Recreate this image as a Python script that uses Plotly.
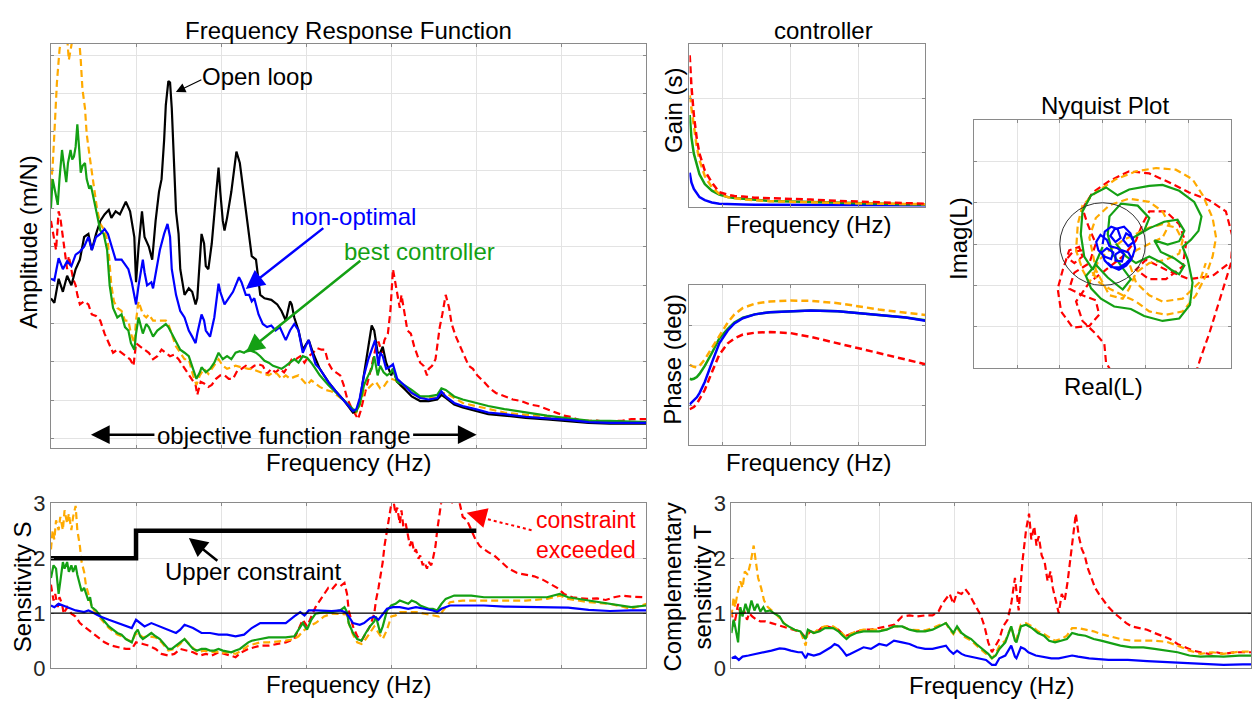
import plotly.graph_objects as go

W, H = 1252, 714

# ---------------- Frequency response (Hz, dB) ----------------
frf_open = [(0,-123.4),(4,-124.6),(9,-118.3),(14,-121.7),(19,-117.5),(24,-120.0),(29,-115.8),(34,-113.3),(39,-107.4),(44,-106.6),(48,-110.8),(53,-106.6),(58,-103.2),(63,-101.5),(68,-100.3),(71,-102.4),(76,-100.7),(81,-101.5),(88,-98.2),(93,-100.7),(98,-107.4),(100,-119.2),(103,-109.9),(107,-100.7),(110,-107.4),(115,-109.9),(119,-113.3),(123,-103.2),(127,-95.6),(130,-92.3),(133,-82.2),(135,-73.0),(138,-66.7),(140,-67.1),(142,-73.8),(145,-90.6),(147,-100.7),(150,-106.6),(152,-115.8),(157,-122.5),(162,-120.8),(166,-121.7),(170,-125.0),(172,-123.4),(177,-106.6),(180,-109.1),(182,-115.0),(185,-115.8),(189,-109.1),(194,-96.5),(197,-89.3),(199,-95.6),(202,-103.2),(204,-105.7),(207,-102.4),(212,-95.6),(216,-88.1),(218,-85.1),(222,-88.1),(227,-96.5),(232,-105.7),(236,-112.4),(241,-113.3),(244,-119.2),(246,-122.5),(251,-123.4),(259,-123.8),(266,-125.0),(271,-126.7),(276,-129.2),(281,-124.2),(283,-125.0),(286,-128.4),(291,-131.8),(296,-136.8),(303,-134.3),(308,-137.6),(316,-141.8),(326,-145.2),(335,-147.7),(345,-150.2),(355,-153.2),(359,-152.8),(363,-150.2),(368,-143.5),(373,-136.0),(377,-130.5),(380,-131.8),(384,-137.6),(387,-137.6),(390,-136.0),(394,-140.2),(400,-143.5),(402,-141.8),(407,-145.2),(415,-146.9),(424,-149.0),(434,-150.2),(444,-150.2),(454,-149.8),(459,-148.6),(464,-149.4),(474,-151.1),(484,-151.9),(499,-152.8),(514,-153.6),(533,-154.0),(558,-154.6),(583,-155.0),(608,-155.4),(632,-155.9),(657,-156.1),(700,-156.1)]

frf_nonopt = [(0,-118.3),(4,-118.7),(9,-112.9),(14,-115.8),(19,-113.7),(24,-115.0),(29,-112.0),(34,-111.2),(39,-109.9),(44,-107.4),(48,-110.8),(53,-107.4),(58,-106.6),(63,-105.3),(67,-106.6),(71,-109.9),(76,-113.3),(83,-113.3),(91,-115.8),(95,-119.2),(100,-125.0),(103,-120.0),(108,-113.3),(110,-116.6),(113,-120.0),(118,-119.2),(120,-120.8),(124,-115.8),(128,-110.8),(133,-106.6),(137,-104.0),(140,-107.4),(142,-115.8),(147,-122.5),(152,-126.7),(157,-128.4),(162,-131.8),(166,-133.4),(170,-135.1),(172,-132.6),(177,-127.6),(180,-129.2),(182,-131.8),(187,-133.4),(192,-128.4),(197,-119.6),(199,-121.7),(204,-125.0),(209,-123.4),(214,-121.7),(221,-117.9),(224,-119.2),(229,-122.5),(233,-122.5),(236,-124.2),(239,-123.4),(244,-127.6),(249,-130.1),(254,-130.9),(259,-130.5),(264,-131.8),(269,-130.9),(274,-133.4),(276,-134.3),(281,-131.8),(286,-130.1),(291,-131.8),(296,-137.6),(301,-135.1),(303,-134.3),(306,-136.8),(311,-140.6),(316,-141.8),(326,-145.2),(335,-147.7),(345,-150.2),(355,-152.8),(359,-152.3),(363,-149.4),(368,-143.5),(373,-139.3),(377,-136.8),(381,-134.3),(385,-141.0),(387,-137.6),(390,-138.5),(394,-141.8),(400,-141.0),(402,-140.6),(407,-144.4),(415,-146.0),(424,-148.1),(434,-149.4),(444,-149.8),(454,-149.4),(459,-147.7),(464,-149.0),(474,-150.7),(484,-151.5),(499,-152.3),(514,-153.2),(533,-153.6),(558,-154.3),(583,-154.7),(608,-155.1),(632,-155.7),(657,-155.9),(700,-155.9)]

frf_best = [(0,-99.8),(2,-92.3),(5,-95.6),(8,-99.0),(10,-92.3),(13,-84.7),(15,-88.1),(18,-93.1),(20,-88.1),(23,-84.7),(25,-87.2),(27,-86.4),(29,-83.9),(31,-78.0),(33,-83.9),(35,-90.6),(37,-88.9),(40,-88.1),(42,-92.3),(45,-94.8),(47,-94.0),(51,-98.2),(54,-101.5),(58,-105.7),(62,-106.6),(66,-110.8),(69,-120.0),(73,-125.9),(78,-128.4),(83,-127.6),(87,-130.9),(91,-131.8),(94,-135.1),(98,-136.8),(100,-132.6),(103,-128.4),(108,-132.6),(112,-130.1),(115,-130.9),(120,-133.4),(125,-131.8),(130,-130.9),(135,-130.1),(138,-130.9),(142,-132.6),(147,-135.1),(152,-136.8),(157,-137.6),(162,-138.5),(167,-141.8),(171,-144.4),(175,-142.7),(177,-141.4),(182,-142.7),(187,-141.8),(192,-140.2),(197,-137.6),(202,-139.3),(207,-138.5),(212,-139.3),(217,-137.6),(222,-137.2),(227,-137.6),(232,-136.8),(236,-137.2),(241,-137.6),(246,-138.5),(251,-139.7),(256,-140.2),(261,-141.0),(266,-141.4),(271,-141.8),(276,-141.0),(281,-140.2),(286,-139.3),(291,-140.2),(296,-138.5),(301,-138.9),(306,-140.2),(311,-141.8),(316,-143.5),(326,-146.0),(335,-148.1),(345,-150.2),(355,-152.3),(359,-152.8),(363,-151.1),(368,-146.0),(373,-143.5),(377,-141.8),(380,-138.5),(384,-143.5),(387,-141.0),(391,-142.7),(395,-143.5),(400,-142.7),(402,-141.8),(407,-145.2),(415,-146.0),(424,-147.3),(434,-149.0),(444,-149.0),(454,-148.6),(459,-146.9),(464,-147.3),(474,-149.0),(484,-149.8),(499,-150.7),(514,-151.5),(533,-152.3),(558,-153.2),(583,-154.0),(608,-154.7),(632,-155.3),(657,-155.4),(700,-155.7)]

frf_orange = [(0,-94.0),(2,-88.9),(4,-80.5),(7,-67.1),(10,-58.7),(13,-53.6),(16,-52.0),(19,-55.3),(21,-61.2),(24,-57.0),(27,-53.6),(30,-51.1),(33,-55.3),(35,-61.2),(37,-68.8),(40,-73.8),(42,-80.5),(45,-85.6),(47,-88.9),(51,-94.8),(54,-99.8),(58,-104.0),(63,-105.7),(67,-109.1),(71,-120.0),(74,-124.2),(78,-125.9),(83,-126.7),(87,-129.2),(91,-129.2),(94,-132.6),(98,-135.1),(100,-129.2),(103,-124.2),(108,-127.6),(112,-128.4),(115,-127.6),(120,-129.2),(128,-129.2),(135,-129.2),(138,-130.1),(142,-132.6),(147,-136.0),(152,-137.6),(157,-139.3),(162,-139.3),(167,-143.5),(171,-146.0),(175,-143.5),(180,-141.8),(185,-143.1),(189,-141.8),(194,-140.2),(197,-139.3),(202,-141.0),(207,-141.8),(212,-141.4),(217,-141.0),(224,-141.4),(232,-141.8),(236,-141.8),(241,-142.3),(246,-142.7),(251,-143.1),(256,-143.5),(261,-142.7),(266,-143.1),(271,-144.4),(276,-143.5),(281,-144.4),(286,-143.9),(291,-143.5),(296,-144.8),(301,-146.0),(306,-144.8),(311,-145.6),(316,-146.5),(323,-147.3),(330,-147.7),(338,-149.0),(345,-150.2),(355,-152.8),(359,-153.2),(363,-151.1),(368,-147.7),(373,-146.9),(377,-146.0),(382,-145.2),(387,-146.9),(391,-146.5),(395,-145.2),(400,-144.4),(405,-144.8),(410,-146.0),(415,-146.9),(424,-148.1),(434,-149.4),(444,-149.4),(454,-149.4),(459,-148.1),(464,-148.1),(474,-149.4),(484,-150.7),(499,-151.5),(514,-152.3),(533,-153.2),(558,-153.8),(583,-154.3),(608,-154.9),(632,-155.4),(657,-155.7),(700,-155.7)]

frf_red = [(0,-103.2),(3,-107.4),(6,-110.8),(9,-100.7),(11,-102.4),(14,-107.4),(16,-110.8),(19,-115.8),(21,-112.4),(24,-115.8),(26,-118.3),(29,-120.0),(31,-122.5),(34,-125.0),(39,-124.2),(44,-125.0),(48,-127.6),(53,-128.0),(58,-129.2),(63,-132.6),(68,-135.1),(73,-137.6),(78,-136.8),(83,-137.6),(88,-138.5),(93,-139.3),(97,-141.0),(100,-135.1),(105,-136.0),(110,-136.8),(115,-137.6),(120,-139.3),(125,-138.5),(130,-136.8),(135,-137.6),(140,-138.5),(145,-138.1),(150,-139.3),(155,-141.0),(160,-142.7),(165,-144.4),(170,-146.0),(172,-148.6),(176,-145.2),(180,-145.6),(185,-146.5),(189,-146.0),(194,-144.4),(199,-143.5),(204,-143.5),(209,-144.4),(214,-144.4),(219,-142.3),(224,-141.8),(229,-141.0),(234,-141.8),(239,-141.0),(244,-140.6),(249,-141.0),(254,-143.1),(259,-141.8),(264,-142.7),(269,-141.8),(274,-142.7),(279,-141.0),(283,-139.3),(288,-139.3),(293,-138.5),(298,-140.2),(303,-138.5),(308,-137.6),(313,-136.4),(318,-136.8),(322,-136.8),(326,-140.2),(330,-141.8),(335,-142.7),(340,-143.5),(344,-146.0),(348,-149.4),(353,-151.9),(358,-154.0),(361,-154.9),(364,-152.8),(368,-149.4),(373,-144.4),(377,-141.0),(382,-136.0),(385,-134.7),(389,-137.6),(392,-134.3),(396,-132.6),(399,-126.7),(402,-115.8),(405,-120.0),(407,-122.5),(410,-125.9),(412,-122.5),(415,-126.7),(417,-129.2),(419,-131.8),(423,-132.6),(427,-136.0),(431,-138.5),(434,-140.2),(438,-141.0),(442,-143.5),(444,-141.8),(448,-141.0),(452,-139.3),(454,-136.0),(457,-130.9),(460,-127.6),(464,-122.5),(468,-125.9),(471,-130.1),(476,-133.4),(481,-136.0),(486,-138.5),(491,-141.0),(496,-141.8),(501,-143.5),(509,-145.2),(516,-146.9),(523,-148.1),(533,-149.0),(543,-149.8),(553,-150.2),(563,-151.1),(573,-151.5),(583,-152.3),(593,-153.2),(603,-154.0),(612,-154.4),(622,-155.3),(632,-155.4),(642,-155.3),(652,-155.7),(662,-155.4),(672,-155.3),(682,-154.9),(700,-154.9)]

# ---------------- Controller (Hz, gain in s, phase in deg) ----------------
ctrl_hz = [0.33, 0.35, 0.38, 0.42, 0.46, 0.55, 0.7, 0.9, 1.2, 1.5, 2, 3, 5, 10, 20, 50, 100, 200, 500, 966]
gain_red = [2.79, 2.22, 1.69, 1.25, 0.98, 0.67, 0.45, 0.27, 0.225, 0.20, 0.19, 0.17, 0.16, 0.15, 0.135, 0.11, 0.095, 0.083, 0.07, 0.06]
gain_orange = [2.05, 1.81, 1.46, 1.10, 0.86, 0.57, 0.36, 0.24, 0.18, 0.16, 0.14, 0.125, 0.105, 0.095, 0.083, 0.07, 0.065, 0.06, 0.055, 0.05]
gain_green = [1.69, 1.28, 0.98, 0.75, 0.60, 0.42, 0.30, 0.225, 0.18, 0.165, 0.15, 0.13, 0.11, 0.10, 0.09, 0.07, 0.065, 0.055, 0.05, 0.045]
gain_blue = [0.63, 0.45, 0.33, 0.24, 0.18, 0.125, 0.083, 0.06, 0.05, 0.045, 0.045, 0.04, 0.04, 0.04, 0.04, 0.035, 0.035, 0.03, 0.03, 0.03]
phase_orange = [0.3, -0.7, -1.8, -2.5, -0.7, 6.5, 19.2, 33.6, 48.0, 57.1, 64.3, 69.1, 71.6, 72.6, 72.3, 69.7, 66.1, 62.6, 58.9, 56.4]
phase_green = [-15.2, -15.9, -15.2, -13.4, -9.8, -0.7, 13.7, 30.0, 40.8, 48.0, 53.5, 57.1, 59.6, 60.7, 61.4, 60.7, 58.9, 56.4, 53.5, 50.6]
phase_blue = [-44.1, -42.3, -39.8, -36.1, -31.4, -18.8, 2.9, 24.6, 39.0, 46.9, 52.8, 57.1, 59.6, 60.7, 61.4, 60.7, 58.9, 56.4, 53.5, 49.9]
phase_red = [-49.5, -48.4, -47.0, -43.4, -38.7, -27.9, -7.9, 11.9, 24.6, 30.0, 34.4, 36.5, 37.2, 36.1, 31.8, 24.6, 19.2, 13.0, 6.5, 1.1]

# ---------------- Nyquist (Re, Im) ----------------
nyq_red = [(-0.47,-0.15),(-0.70,-0.19),(-0.82,-0.34),(-0.66,-0.46),(-0.47,-0.30),(-0.55,-0.07),(-0.78,-0.15),(-0.93,-0.62),(-1.05,-1.08),(-0.97,-1.63),(-0.70,-2.02),(-0.31,-1.98),(-0.08,-1.71),(-0.16,-1.36),(-0.47,-1.24),(-0.78,-1.08),(-0.66,-0.69),(-0.31,-0.46),(-0.16,0.01),(-0.35,0.48),(-0.47,0.86),(-0.23,1.25),(0.16,1.53),(0.62,1.76),(1.09,1.71),(1.56,1.49),(2.02,1.25),(2.49,1.06),(2.88,0.79),(3.04,0.16),(3.00,-0.46),(2.84,-1.00),(2.69,-1.55),(2.49,-2.17),(2.30,-2.72),(2.18,-3.11),(1.40,-3.50),(0.31,-3.26),(0.08,-2.87),(0.04,-2.41),(-0.16,-2.17),(-0.47,-1.86),(-0.62,-1.39),(-0.31,-0.93),(0.08,-0.62),(0.47,-0.30),(0.78,0.09),(0.93,0.48),(1.09,0.79),(1.48,0.79),(1.79,0.48),(1.95,0.01),(1.87,-0.54),(1.48,-0.85),(1.09,-0.85),(0.78,-0.62),(1.01,-0.38),(1.48,-0.62),(2.02,-0.85),(2.57,-0.77),(2.96,-0.46)]
nyq_orange = [(-0.16,-0.62),(-0.31,-0.93),(-0.47,-0.62),(-0.62,-0.15),(-0.58,0.48),(-0.47,0.94),(-0.16,1.25),(0.31,1.57),(0.78,1.76),(1.25,1.84),(1.71,1.80),(2.10,1.57),(2.34,1.18),(2.57,0.63),(2.65,0.16),(2.57,-0.30),(2.41,-0.77),(2.18,-1.24),(1.87,-1.63),(1.48,-1.71),(1.09,-1.63),(0.78,-1.39),(0.47,-1.24),(0.16,-1.08),(-0.08,-0.93),(-0.23,-0.69),(-0.08,-0.38),(0.16,-0.15),(0.47,0.09),(0.78,0.24),(1.09,0.40),(1.40,0.48),(1.71,0.40),(1.87,0.09),(1.79,-0.23),(1.48,-0.38),(1.09,-0.46),(0.78,-0.69),(0.62,-1.08),(0.47,-1.32),(0.16,-1.24),(0.00,-0.93),(-0.16,-0.62),(-0.23,-0.23),(-0.31,0.16),(-0.16,0.63),(0.16,0.94),(0.62,1.10),(1.09,1.02),(1.40,0.79),(1.56,0.48),(1.40,0.16),(1.09,0.01),(0.78,-0.15),(0.62,-0.46),(0.78,-0.93),(1.09,-1.24),(1.40,-1.39),(1.87,-1.32),(2.26,-0.93),(2.41,-0.46)]
nyq_green = [(0.00,-0.07),(-0.23,-0.62),(-0.43,-0.30),(-0.51,0.24),(-0.47,0.79),(-0.27,1.18),(0.08,1.37),(0.35,1.18),(0.62,1.32),(1.09,1.41),(1.40,1.43),(1.79,1.29),(2.14,1.02),(2.31,0.67),(2.24,0.32),(2.06,0.10),(1.87,-0.07),(1.99,-0.38),(2.10,-0.93),(2.04,-1.47),(1.79,-1.80),(1.40,-1.86),(0.97,-1.74),(0.66,-1.57),(0.27,-1.51),(-0.04,-1.32),(-0.27,-1.07),(-0.39,-0.77),(-0.16,-0.50),(0.12,-0.81),(0.47,-1.10),(0.66,-0.85),(0.47,-0.58),(0.23,-0.23),(0.12,0.24),(0.16,0.67),(0.43,0.98),(0.82,0.93),(1.09,0.63),(0.97,0.32),(0.66,0.12),(1.09,0.38),(1.44,0.54),(1.75,0.59),(1.91,0.32),(1.79,0.07),(1.52,-0.01),(1.21,0.09),(1.36,-0.19),(1.67,-0.34),(1.91,-0.52),(1.79,-0.73),(1.60,-0.62),(1.40,-0.46),(1.09,-0.30),(0.78,-0.46),(0.55,-0.30),(0.31,0.01)]
nyq_blue = [(0.00,0.00),(0.05,0.30),(0.20,0.42),(0.35,0.36),(0.42,0.15),(0.30,0.05),(0.18,0.20),(0.28,0.36),(0.50,0.42),(0.65,0.26),(0.72,0.05),(0.60,-0.05),(0.48,0.10),(0.55,0.26),(0.70,0.16),(0.76,-0.10),(0.70,-0.30),(0.55,-0.46),(0.40,-0.56),(0.20,-0.56),(0.05,-0.40),(-0.02,-0.20),(0.10,-0.10),(0.25,-0.20),(0.20,-0.36),(0.04,-0.30),(-0.10,-0.15),(-0.15,0.05),(-0.05,0.22),(0.10,0.10),(0.16,-0.05),(0.35,-0.10),(0.50,-0.25),(0.45,-0.42),(0.30,-0.40),(0.30,-0.25),(0.45,-0.15),(0.60,-0.20),(0.68,-0.36),(0.55,-0.52),(0.38,-0.62),(0.22,-0.55),(0.12,-0.45)]

# ---------------- Sensitivity S (Hz, |S|) ----------------
s_constraint = [(0, 2.0), (100, 2.0), (100, 2.5), (500, 2.5)]
s_blue = [(0,1.14),(4,1.11),(9,1.17),(14,1.14),(19,1.11),(24,1.08),(29,1.05),(39,1.02),(44,1.05),(48,1.02),(58,0.94),(68,0.88),(78,0.82),(88,0.76),(95,0.73),(100,0.88),(105,0.82),(110,0.76),(118,0.82),(128,0.76),(138,0.70),(147,0.64),(152,0.70),(157,0.79),(167,0.73),(177,0.64),(187,0.64),(197,0.61),(207,0.61),(217,0.58),(227,0.61),(236,0.73),(246,0.82),(256,0.82),(266,0.82),(276,0.82),(286,0.94),(293,1.02),(298,0.96),(303,1.05),(311,1.05),(321,1.04),(330,1.04),(340,1.05),(346,1.02),(350,0.94),(355,0.82),(363,0.79),(368,0.82),(375,0.91),(380,0.94),(385,0.88),(390,0.99),(395,1.08),(402,1.11),(410,1.11),(420,1.08),(429,1.11),(439,1.08),(449,1.05),(454,1.02),(459,1.08),(469,1.14),(484,1.14),(509,1.14),(533,1.12),(558,1.11),(583,1.11),(608,1.10),(632,1.06),(657,1.04),(682,1.05),(700,1.05)]
s_green = [(0,1.64),(3,1.87),(6,1.81),(9,1.35),(11,1.58),(14,1.93),(16,1.81),(19,1.93),(21,1.75),(24,1.87),(26,1.75),(29,1.87),(31,1.70),(34,1.52),(36,1.40),(39,1.46),(41,1.35),(44,1.23),(46,1.29),(48,1.11),(53,1.05),(58,0.94),(63,0.85),(68,0.76),(73,0.70),(78,0.64),(83,0.61),(88,0.53),(95,0.47),(99,0.64),(102,0.70),(105,0.58),(108,0.53),(113,0.58),(118,0.64),(123,0.58),(128,0.53),(133,0.44),(138,0.35),(142,0.35),(147,0.41),(152,0.47),(157,0.53),(162,0.44),(167,0.35),(172,0.32),(177,0.35),(182,0.35),(187,0.32),(192,0.32),(197,0.35),(202,0.32),(207,0.30),(212,0.29),(217,0.32),(222,0.35),(227,0.41),(232,0.47),(236,0.50),(246,0.53),(256,0.56),(266,0.56),(276,0.56),(286,0.58),(291,0.70),(296,0.82),(301,0.70),(306,0.88),(311,0.99),(321,1.02),(330,1.02),(340,1.05),(345,1.11),(348,1.02),(350,0.82),(355,0.64),(360,0.53),(365,0.50),(370,0.64),(375,0.76),(380,0.85),(382,0.94),(385,0.76),(387,0.64),(390,0.76),(392,0.88),(395,1.05),(400,1.14),(405,1.17),(410,1.23),(415,1.20),(420,1.17),(424,1.23),(429,1.20),(434,1.14),(439,1.11),(444,1.08),(449,1.08),(454,1.05),(459,1.17),(464,1.26),(469,1.29),(474,1.32),(484,1.32),(494,1.32),(509,1.29),(533,1.29),(558,1.29),(583,1.29),(598,1.35),(608,1.29),(632,1.23),(657,1.17),(682,1.11),(700,1.14)]
s_orange = [(0,2.16),(2,2.51),(4,2.34),(6,2.69),(9,2.51),(11,2.75),(14,2.51),(16,2.87),(19,2.63),(21,2.81),(24,2.51),(26,2.75),(29,2.95),(31,2.51),(34,2.22),(36,1.93),(39,1.75),(41,1.52),(44,1.35),(46,1.23),(48,1.11),(53,0.99),(58,0.91),(63,0.82),(68,0.73),(73,0.67),(78,0.61),(83,0.58),(88,0.53),(95,0.48),(99,0.61),(102,0.64),(108,0.56),(115,0.58),(123,0.56),(130,0.47),(138,0.32),(145,0.35),(152,0.44),(157,0.53),(165,0.41),(172,0.29),(180,0.32),(187,0.29),(194,0.30),(202,0.28),(209,0.29),(217,0.26),(224,0.32),(232,0.41),(239,0.44),(246,0.47),(256,0.47),(266,0.48),(276,0.50),(286,0.53),(291,0.58),(296,0.67),(303,0.76),(311,0.82),(321,0.94),(330,0.99),(340,0.99),(348,0.98),(350,0.82),(355,0.61),(360,0.47),(365,0.44),(370,0.53),(375,0.64),(380,0.76),(385,0.64),(390,0.53),(395,0.70),(400,0.94),(405,0.96),(410,1.02),(420,1.02),(429,1.02),(439,0.99),(449,0.96),(456,0.94),(461,1.05),(469,1.20),(484,1.23),(509,1.23),(533,1.23),(558,1.23),(583,1.26),(598,1.32),(608,1.26),(632,1.20),(657,1.17),(682,1.08),(700,1.17)]
s_red = [(0,1.52),(3,1.23),(5,1.35),(8,1.11),(10,1.29),(13,1.17),(15,0.99),(19,1.11),(24,0.99),(29,0.94),(34,0.82),(39,0.76),(44,0.70),(48,0.64),(56,0.56),(63,0.47),(71,0.41),(78,0.38),(88,0.35),(95,0.35),(100,0.47),(108,0.44),(115,0.41),(123,0.35),(130,0.26),(138,0.23),(145,0.26),(152,0.35),(160,0.32),(167,0.29),(175,0.23),(182,0.26),(189,0.23),(197,0.29),(204,0.26),(212,0.23),(217,0.20),(224,0.29),(232,0.35),(239,0.38),(246,0.41),(256,0.41),(266,0.44),(276,0.47),(286,0.53),(291,0.70),(296,0.88),(301,0.76),(306,0.94),(311,1.11),(316,1.23),(321,1.35),(326,1.46),(330,1.43),(335,1.52),(340,1.49),(345,1.55),(348,1.35),(350,1.05),(355,0.76),(360,0.58),(365,0.50),(370,0.64),(375,0.76),(380,0.99),(382,1.23),(385,1.46),(387,1.64),(390,1.93),(392,2.22),(395,2.51),(397,2.75),(400,2.98),(402,3.10),(405,2.81),(407,2.92),(410,2.63),(412,2.87),(415,2.46),(417,2.63),(420,2.40),(422,2.22),(424,2.34),(427,2.11),(429,2.16),(432,1.99),(434,2.05),(437,1.87),(439,1.93),(442,1.81),(444,1.93),(447,1.87),(449,1.99),(452,2.22),(454,2.51),(457,2.81),(459,3.04),(464,3.10),(469,3.04),(474,2.98),(479,3.10),(482,2.92),(484,2.75),(489,2.69),(494,2.51),(499,2.34),(504,2.22),(509,2.16),(514,2.11),(521,2.05),(529,1.93),(538,1.81),(548,1.73),(558,1.70),(568,1.67),(578,1.61),(588,1.52),(595,1.46),(603,1.35),(613,1.29),(622,1.27),(632,1.26),(642,1.27),(652,1.24),(662,1.29),(672,1.32),(682,1.30),(700,1.29)]

# ---------------- Complementary sensitivity T (Hz, |T|) ----------------
t_blue = [(0,0.18),(5,0.21),(10,0.15),(15,0.21),(23,0.23),(34,0.26),(44,0.29),(54,0.32),(65,0.36),(72,0.35),(80,0.32),(90,0.29),(95,0.29),(100,0.18),(103,0.26),(111,0.23),(119,0.26),(126,0.32),(134,0.38),(139,0.44),(144,0.41),(150,0.32),(155,0.23),(160,0.26),(168,0.32),(178,0.38),(188,0.35),(199,0.44),(209,0.41),(219,0.50),(230,0.47),(240,0.44),(250,0.38),(261,0.35),(271,0.35),(281,0.38),(289,0.41),(294,0.32),(299,0.26),(304,0.32),(310,0.26),(315,0.23),(323,0.21),(333,0.18),(343,0.15),(351,0.06),(356,0.06),(361,0.18),(369,0.23),(377,0.41),(382,0.21),(384,0.18),(390,0.38),(395,0.35),(400,0.29),(410,0.23),(421,0.21),(431,0.18),(441,0.18),(452,0.21),(459,0.23),(467,0.21),(482,0.18),(508,0.15),(534,0.15),(560,0.13),(586,0.11),(611,0.09),(637,0.07),(663,0.06),(689,0.07),(700,0.07)]
t_green = [(0,0.64),(3,0.88),(5,0.76),(9,0.47),(12,1.11),(15,0.94),(19,1.17),(23,1.00),(27,1.23),(31,1.05),(35,1.17),(39,1.03),(43,1.11),(46,1.03),(52,1.05),(57,1.00),(65,0.94),(70,0.82),(77,0.76),(85,0.70),(93,0.67),(100,0.53),(103,0.70),(111,0.64),(119,0.67),(126,0.73),(137,0.73),(144,0.67),(150,0.59),(155,0.53),(160,0.59),(168,0.64),(178,0.67),(188,0.67),(199,0.67),(209,0.70),(219,0.76),(230,0.76),(240,0.70),(250,0.67),(261,0.67),(271,0.70),(281,0.76),(289,0.82),(294,0.73),(299,0.64),(304,0.76),(310,0.64),(315,0.59),(323,0.53),(330,0.44),(338,0.35),(346,0.26),(351,0.18),(356,0.23),(361,0.35),(369,0.47),(377,0.76),(382,0.50),(384,0.47),(390,0.76),(397,0.79),(405,0.73),(413,0.64),(421,0.59),(428,0.50),(436,0.47),(444,0.50),(452,0.53),(459,0.64),(467,0.61),(477,0.59),(488,0.53),(498,0.50),(508,0.47),(524,0.41),(539,0.38),(555,0.38),(570,0.35),(586,0.32),(601,0.29),(617,0.23),(632,0.21),(648,0.22),(663,0.21),(684,0.23),(700,0.23)]
t_orange = [(0,0.94),(3,1.29),(5,1.11),(8,1.35),(12,1.58),(15,1.46),(18,1.76),(22,1.70),(26,1.93),(30,2.23),(33,1.93),(36,1.64),(40,1.46),(44,1.23),(49,1.11),(54,1.05),(59,1.00),(67,0.88),(75,0.76),(85,0.70),(93,0.67),(100,0.41),(103,0.67),(111,0.64),(119,0.73),(126,0.76),(137,0.76),(144,0.70),(150,0.62),(155,0.56),(160,0.62),(168,0.67),(178,0.70),(188,0.70),(199,0.69),(209,0.70),(219,0.76),(230,0.76),(240,0.70),(250,0.69),(261,0.69),(271,0.73),(281,0.79),(289,0.82),(294,0.70),(299,0.62),(304,0.73),(310,0.62),(315,0.56),(323,0.50),(330,0.41),(338,0.32),(346,0.23),(351,0.18),(356,0.26),(361,0.41),(369,0.50),(377,0.76),(382,0.50),(384,0.53),(390,0.79),(397,0.82),(405,0.76),(413,0.67),(421,0.62),(428,0.56),(436,0.50),(444,0.53),(452,0.59),(459,0.73),(467,0.73),(477,0.70),(488,0.67),(498,0.62),(508,0.59),(524,0.53),(539,0.50),(555,0.50),(570,0.50),(586,0.48),(601,0.41),(617,0.32),(632,0.26),(648,0.29),(663,0.26),(684,0.30),(700,0.30)]
t_red = [(0,1.05),(3,0.76),(6,0.94),(9,1.17),(13,0.94),(17,1.05),(21,0.88),(24,1.00),(28,0.94),(34,0.88),(39,0.85),(46,0.85),(54,0.82),(62,0.79),(70,0.76),(77,0.73),(85,0.70),(93,0.66),(100,0.56),(106,0.67),(114,0.64),(121,0.73),(129,0.76),(137,0.73),(144,0.70),(150,0.62),(155,0.59),(163,0.64),(170,0.67),(178,0.70),(188,0.70),(199,0.73),(209,0.76),(219,0.79),(230,0.94),(240,0.96),(250,0.94),(261,0.96),(271,0.96),(279,1.03),(284,1.17),(289,1.26),(294,1.35),(299,1.17),(304,1.38),(310,1.35),(315,1.44),(320,1.35),(325,1.23),(330,1.11),(336,0.96),(341,0.76),(346,0.47),(351,0.29),(356,0.41),(361,0.53),(366,0.76),(372,0.88),(377,1.17),(382,1.64),(387,1.05),(392,1.93),(397,2.52),(401,2.81),(404,2.34),(408,2.58),(411,2.23),(414,2.40),(418,2.05),(422,1.93),(426,1.58),(430,1.76),(433,1.46),(437,1.23),(441,1.00),(445,1.35),(449,1.23),(453,1.58),(457,2.05),(461,2.52),(464,2.81),(468,2.40),(472,2.17),(476,2.05),(480,1.82),(485,1.64),(490,1.46),(495,1.35),(501,1.23),(508,1.11),(516,1.00),(524,0.91),(532,0.82),(539,0.76),(550,0.73),(560,0.70),(570,0.64),(580,0.59),(591,0.53),(601,0.44),(611,0.38),(622,0.32),(632,0.29),(643,0.26),(653,0.29),(663,0.26),(679,0.29),(700,0.29)]

# ---------------- styling ----------------
BLUE = "#0000FF"
GREEN = "#14A014"
ORANGE = "#FFAA00"
RED = "#FF0000"
BLACK = "#000000"
FONT = "Liberation Sans, Arial, sans-serif"
DASH = "7px,4px"


def px_x(v):
    return v / W


def px_y(v):
    return 1 - v / H


def unzip(pairs):
    return [p[0] for p in pairs], [p[1] for p in pairs]


fig = go.Figure()


def add_line(pairs_or_xy, color, axis, dashed=False, width=2.2):
    if isinstance(pairs_or_xy, tuple):
        xs, ys = pairs_or_xy
    else:
        xs, ys = unzip(pairs_or_xy)
    fig.add_trace(go.Scatter(
        x=xs, y=ys, mode="lines", xaxis="x" + axis, yaxis="y" + axis,
        line=dict(color=color, width=width, dash=DASH if dashed else "solid"),
        showlegend=False, hoverinfo="skip"))


# FRF
add_line(frf_red, RED, "", dashed=True)
add_line(frf_orange, ORANGE, "", dashed=True)
add_line(frf_open, BLACK, "")
add_line(frf_best, GREEN, "")
add_line(frf_nonopt, BLUE, "")

# controller gain / phase
add_line((ctrl_hz, gain_blue), BLUE, "2", width=2.5)
add_line((ctrl_hz, gain_green), GREEN, "2", width=2.5)
add_line((ctrl_hz, gain_orange), ORANGE, "2", dashed=True, width=2.5)
add_line((ctrl_hz, gain_red), RED, "2", dashed=True, width=2.5)
add_line((ctrl_hz, phase_green), GREEN, "3", width=2.5)
add_line((ctrl_hz, phase_orange), ORANGE, "3", dashed=True, width=2.5)
add_line((ctrl_hz, phase_red), RED, "3", dashed=True, width=2.5)
add_line((ctrl_hz, phase_blue), BLUE, "3", width=2.5)

# Nyquist
add_line(nyq_red, RED, "4", dashed=True)
add_line(nyq_orange, ORANGE, "4", dashed=True)
add_line(nyq_green, GREEN, "4")
add_line(nyq_blue, BLUE, "4")

# Sensitivity
add_line(s_red, RED, "5", dashed=True)
add_line(s_orange, ORANGE, "5", dashed=True)
add_line(s_green, GREEN, "5")
add_line(s_blue, BLUE, "5")
add_line(s_constraint, BLACK, "5", width=4.5)

# Complementary sensitivity
add_line(t_red, RED, "6", dashed=True)
add_line(t_orange, ORANGE, "6", dashed=True)
add_line(t_green, GREEN, "6")
add_line(t_blue, BLUE, "6")


def axis(domain, rng, dtick=None, typ="linear", labels=False, anchor=None, tickvals=None):
    d = dict(domain=domain, range=rng, type=typ, showgrid=True, gridcolor="#e3e3e3",
             gridwidth=1, showline=True, linecolor="#8a8a8a", linewidth=1, mirror="ticks",
             zeroline=False, showticklabels=labels, ticks="inside", ticklen=3,
             tickcolor="#8a8a8a", tickwidth=1, anchor=anchor,
             tickfont=dict(family=FONT, size=22, color="#262626"))
    if tickvals is not None:
        d["tickvals"] = tickvals
        d["tickmode"] = "array"
    elif dtick is not None:
        d["dtick"] = dtick
    return d


L = dict(
    width=W, height=H, margin=dict(l=0, r=0, t=0, b=0),
    paper_bgcolor="white", plot_bgcolor="white", showlegend=False,
    font=dict(family=FONT, size=24, color="#000000"),
    # FRF
    xaxis=axis([px_x(51), px_x(647)], [0, 700], dtick=100, anchor="y"),
    yaxis=axis([px_y(452), px_y(33)], [-162.5, -57.0], tickvals=[-160, -150, -140, -130, -120, -110, -100, -90, -80, -70, -60], anchor="x"),
    # gain
    xaxis2=axis([px_x(690), px_x(926)], [-0.485, 2.985], dtick=1, typ="log", anchor="y2"),
    yaxis2=axis([px_y(202), px_y(33)], [0, 3], dtick=1, anchor="x2"),
    # phase
    xaxis3=axis([px_x(690), px_x(926)], [-0.485, 2.985], dtick=1, typ="log", anchor="y3"),
    yaxis3=axis([px_y(449), px_y(283)], [-90, 90], dtick=45, anchor="x3"),
    # Nyquist
    xaxis4=axis([px_x(975), px_x(1232)], [-3, 3], dtick=1, anchor="y4"),
    yaxis4=axis([px_y(369), px_y(112)], [-3, 3], dtick=1, anchor="x4"),
    # S
    xaxis5=axis([px_x(51), px_x(647)], [0, 700], dtick=100, anchor="y5"),
    yaxis5=axis([px_y(680), px_y(509)], [0, 3], tickvals=[0, 1, 2, 3], labels=True, anchor="x5"),
    # T
    xaxis6=axis([px_x(732), 1.0], [0, 700], dtick=100, anchor="y6"),
    yaxis6=axis([px_y(680), px_y(509)], [0, 3], tickvals=[0, 1, 2, 3], labels=True, anchor="x6"),
)
fig.update_layout(**L)

shapes = [
    dict(type="circle", xref="x4", yref="y4", x0=-1, y0=-1, x1=1, y1=1,
         line=dict(color="#333333", width=1)),
    dict(type="line", xref="x5", yref="y5", x0=0, x1=700, y0=1, y1=1,
         line=dict(color=BLACK, width=1.2)),
    dict(type="line", xref="x6", yref="y6", x0=0, x1=700, y0=1, y1=1,
         line=dict(color=BLACK, width=1.2)),
    # dotted shaft of the "constraint exceeded" pointer
    dict(type="line", xref="paper", yref="paper", x0=px_x(532), y0=px_y(537),
         x1=px_x(478), y1=px_y(523), line=dict(color=RED, width=2, dash="dot")),
]
fig.update_layout(shapes=shapes)


def text(s, x, y, size=24, color=BLACK, angle=0):
    return dict(text=s, x=px_x(x), y=px_y(y), xref="paper", yref="paper",
                showarrow=False, xanchor="center", yanchor="middle", textangle=angle,
                font=dict(family=FONT, size=size, color=color))


def arrow(tip_x, tip_y, tail_x, tail_y, color, width, size, head=2):
    return dict(text="", x=px_x(tip_x), y=px_y(tip_y), xref="paper", yref="paper",
                ax=tail_x - tip_x, ay=tail_y - tip_y, axref="pixel", ayref="pixel",
                showarrow=True, arrowhead=head, arrowsize=size, arrowwidth=width,
                arrowcolor=color, standoff=0, startstandoff=0)


ann = [
    # titles
    text("Frequency Response Function", 349, 19),
    text("controller", 824, 19),
    text("Nyquist Plot", 1106, 97),
    # axis labels
    text("Amplitude (m/N)", 29, 238, angle=-90),
    text("Frequency (Hz)", 349, 467),
    text("Gain (s)", 674, 102, angle=-90),
    text("Frequency (Hz)", 809, 220),
    text("Phase (deg)", 673, 360, angle=-90),
    text("Frequency (Hz)", 809, 467),
    text("Imag(L)", 960, 235, angle=-90),
    text("Real(L)", 1104, 388),
    text("Sensitivity S", 22, 595, angle=-90),
    text("Frequency (Hz)", 349, 697),
    text("Complementary", 673, 596, angle=-90),
    text("sensitivity T", 703, 596, angle=-90),
    text("Frequency (Hz)", 992, 698),
    # FRF callouts
    text("Open loop", 258, 67),
    arrow(176, 83, 203, 70, BLACK, 1.2, 1.6),
    text("non-optimal", 354, 212, color=BLUE),
    arrow(246, 287, 325, 225, BLUE, 2.5, 1.5),
    text("best controller", 420, 248, color=GREEN),
    arrow(246, 353, 362, 260, GREEN, 2.5, 1.5),
    text("objective function range", 284, 439),
    arrow(91, 438, 156, 438, BLACK, 2.5, 1.5),
    arrow(477, 438, 412, 438, BLACK, 2.5, 1.5),
    # sensitivity callouts
    text("Upper constraint", 253, 580),
    arrow(189, 545, 219, 569, BLACK, 2.5, 1.5),
    text("constraint<br>exceeded", 586, 542, size=23, color=RED),
    arrow(467, 519, 482, 523, RED, 2.5, 1.6),
]
fig.update_layout(annotations=ann)

fig.write_html("out.html")
